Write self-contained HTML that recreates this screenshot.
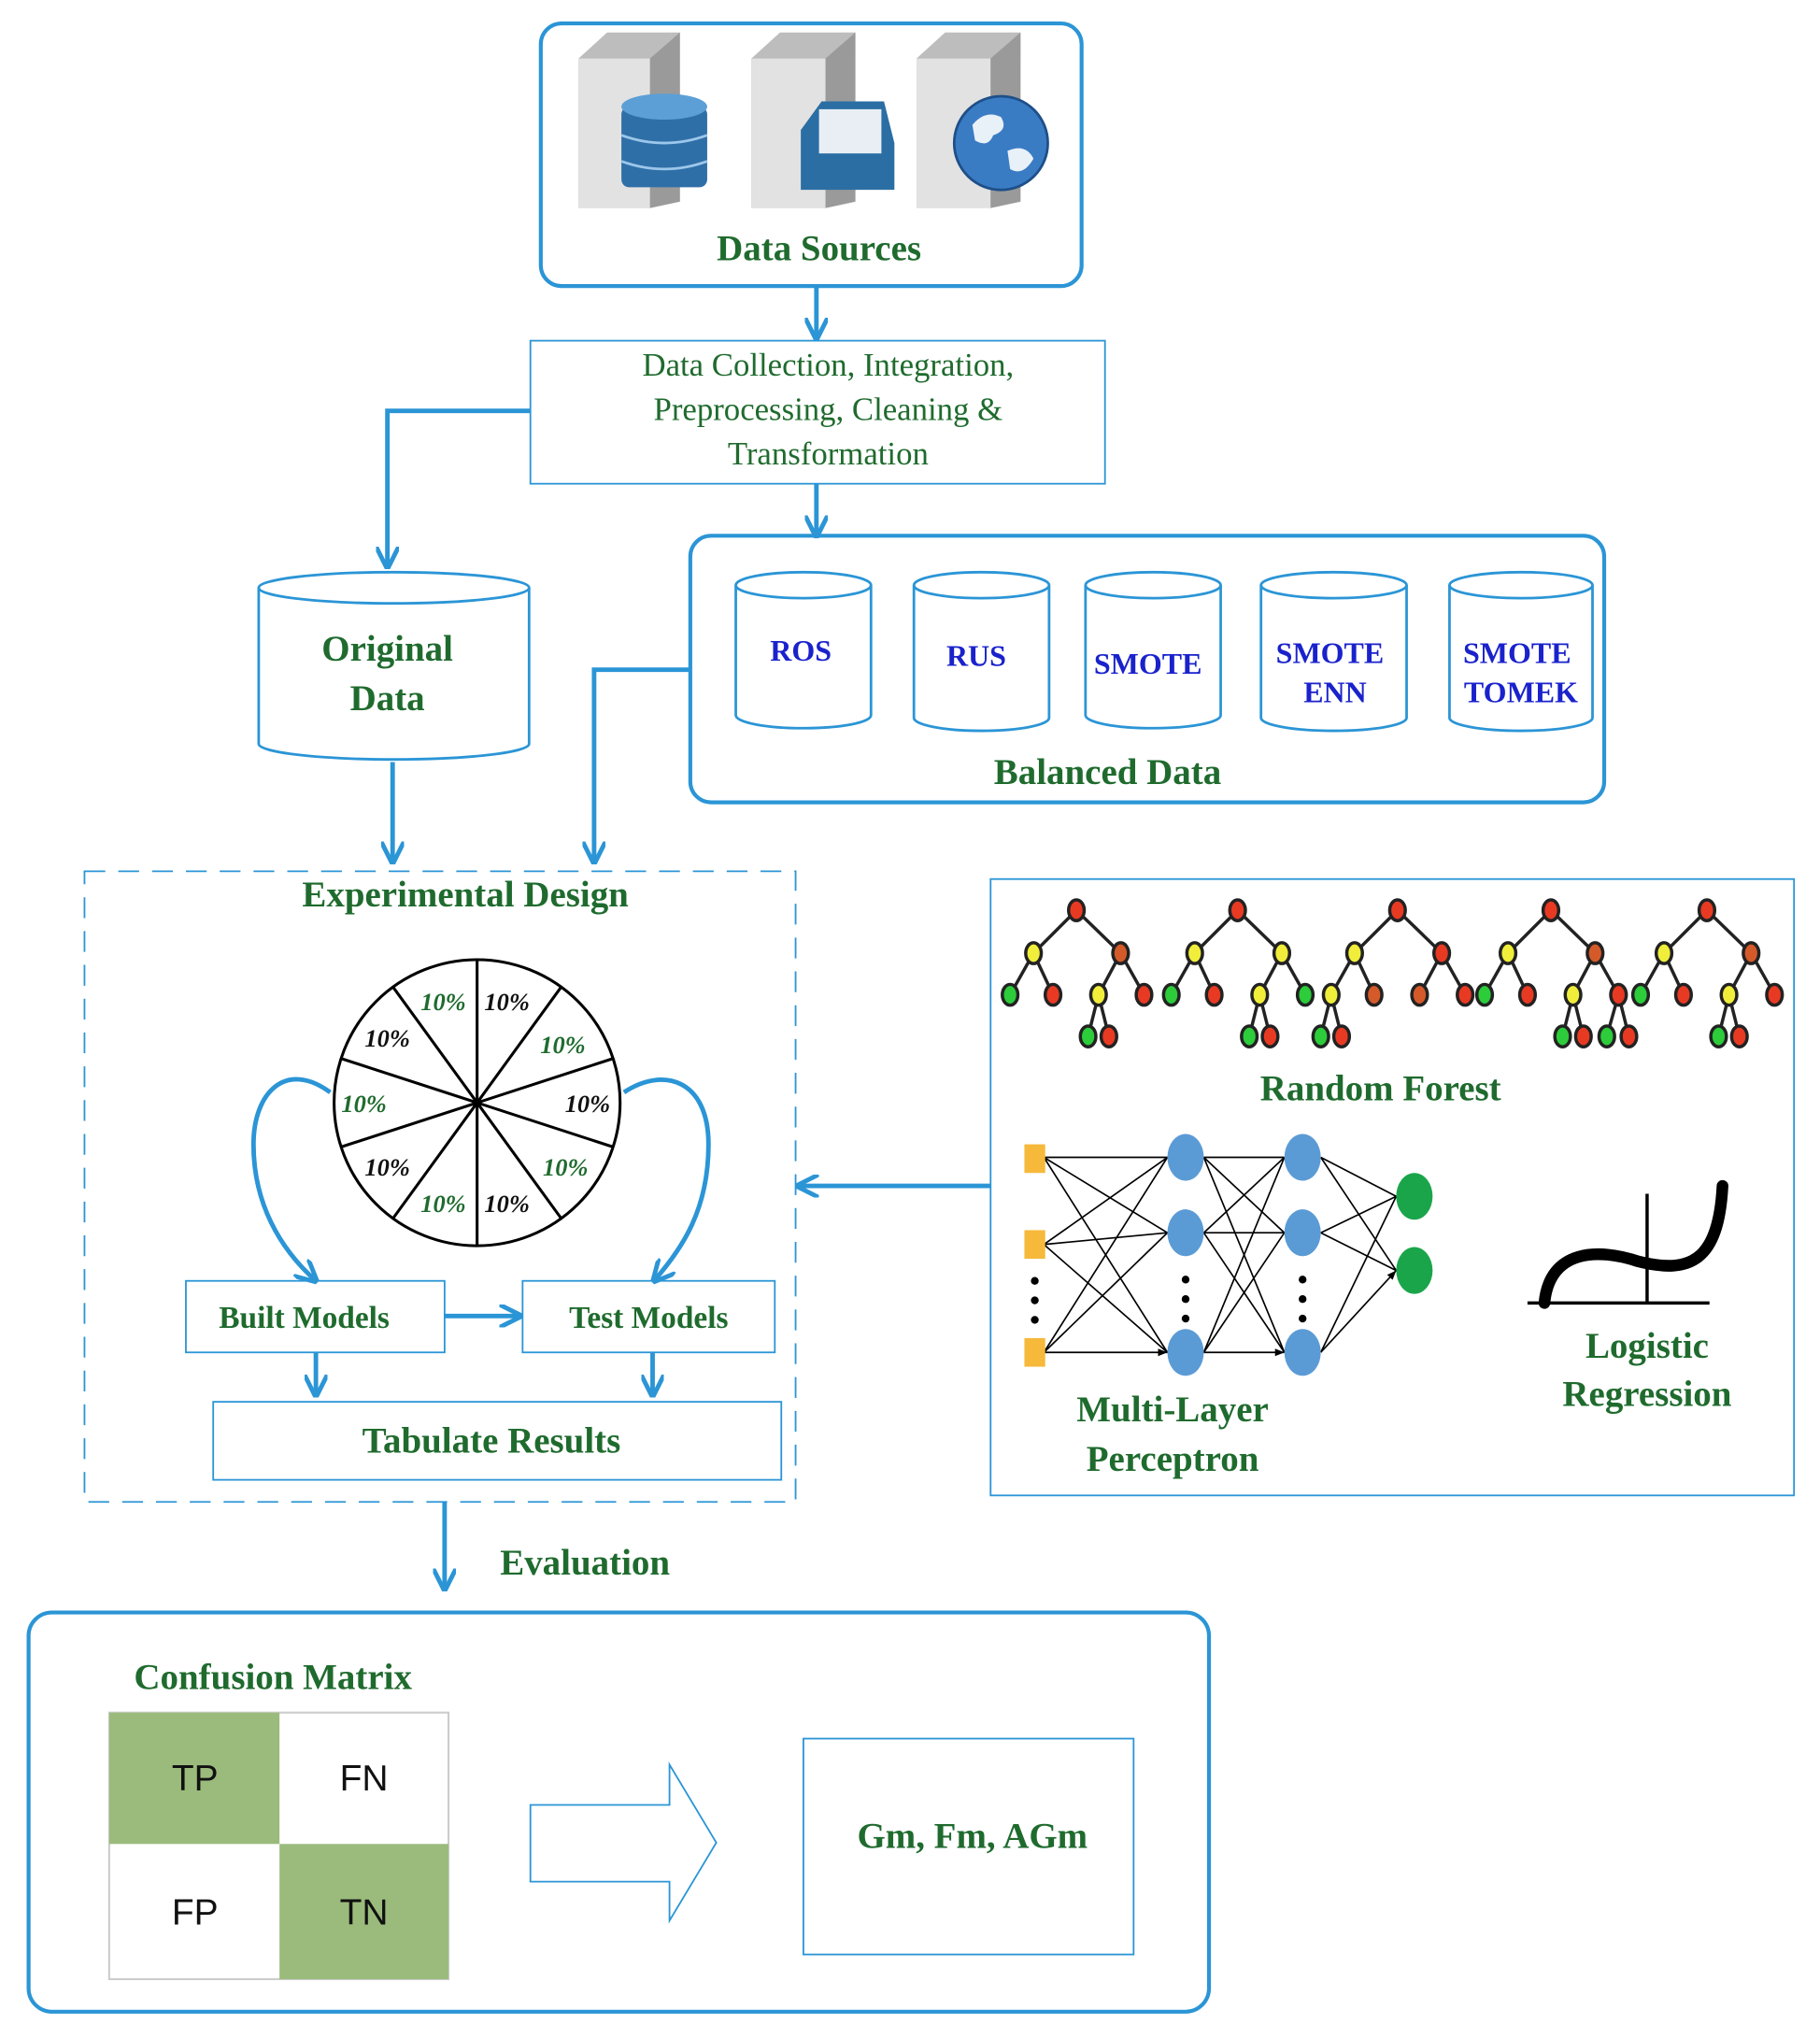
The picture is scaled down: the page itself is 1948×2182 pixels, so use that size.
<!DOCTYPE html>
<html><head><meta charset="utf-8"><style>html,body{margin:0;padding:0;background:#fff}svg{display:block}</style></head><body>
<svg width="1948" height="2182" viewBox="0 0 1400 1568" preserveAspectRatio="none" xmlns="http://www.w3.org/2000/svg" font-family="Liberation Serif, serif">
<defs>
<marker id="ah" viewBox="0 0 10 10" refX="9" refY="5" markerWidth="5" markerHeight="5" orient="auto"><path d="M0,0 L10,5 L0,10" fill="none" stroke="#2b95d6" stroke-width="2"/></marker>
<marker id="ak" viewBox="0 0 10 10" refX="10" refY="5" markerWidth="6" markerHeight="6" orient="auto"><path d="M0,1 L10,5 L0,9z" fill="#000"/></marker>
</defs>
<g stroke="#2b95d6" fill="none">
<rect x="416" y="18" width="416" height="202" rx="16" stroke-width="3"/>
<rect x="408" y="262" width="442" height="110" stroke-width="1.3"/>
<rect x="531" y="412" width="703" height="205" rx="16" stroke-width="3"/>
<rect x="65" y="670" width="547" height="485" stroke-width="1.3" stroke-dasharray="16,10"/>
<rect x="143" y="985" width="199" height="55" stroke-width="1.3"/>
<rect x="402" y="985" width="194" height="55" stroke-width="1.3"/>
<rect x="164" y="1078" width="437" height="60" stroke-width="1.3"/>
<rect x="762" y="676" width="618" height="474" stroke-width="1.3"/>
<rect x="22" y="1240" width="908" height="307" rx="18" stroke-width="3"/>
<rect x="618" y="1337" width="254" height="166" stroke-width="1.3"/>
<path d="M408,1388 H515 V1357 L551,1417 L515,1477 V1447 H408 Z" stroke-width="1.3"/>
<g stroke-width="3.5">
<path d="M628,220 V260" marker-end="url(#ah)"/>
<path d="M628,372 V412" marker-end="url(#ah)"/>
<path d="M408,316 H298 V436" marker-end="url(#ah)"/>
<path d="M531,515 H457 V663" marker-end="url(#ah)"/>
<path d="M302,586 V663" marker-end="url(#ah)"/>
<path d="M762,912 H614" marker-end="url(#ah)"/>
<path d="M342,1012 H400" marker-end="url(#ah)"/>
<path d="M243,1040 V1073" marker-end="url(#ah)"/>
<path d="M502,1040 V1073" marker-end="url(#ah)"/>
<path d="M342,1155 V1222" marker-end="url(#ah)"/>
<path d="M254,840 C220,815 195,840 195,880 C195,925 215,960 243,985" marker-end="url(#ah)"/>
<path d="M480,840 C510,820 545,830 545,880 C545,930 525,960 503,985" marker-end="url(#ah)"/>
</g>
<g stroke-width="2">
<path d="M199,452 V572 A104,12 0 0 0 407,572 V452"/><ellipse cx="303" cy="452" rx="104" ry="12"/>
<path d="M566,450 V550 A52,10 0 0 0 670,550 V450"/><ellipse cx="618" cy="450" rx="52" ry="10"/>
<path d="M703,450 V552 A52,10 0 0 0 807,552 V450"/><ellipse cx="755" cy="450" rx="52" ry="10"/>
<path d="M835,450 V550 A52,10 0 0 0 939,550 V450"/><ellipse cx="887" cy="450" rx="52" ry="10"/>
<path d="M970,450 V552 A56,10 0 0 0 1082,552 V450"/><ellipse cx="1026" cy="450" rx="56" ry="10"/>
<path d="M1115,450 V552 A55,10 0 0 0 1225,552 V450"/><ellipse cx="1170" cy="450" rx="55" ry="10"/>
</g>
</g>
<!-- servers -->
<g>
<g transform="translate(445,25)"><path d="M0,20 L22,0 H78 V130 L55,135 H0 Z" fill="#bdbdbd"/><path d="M0,20 H55 V135 H0Z" fill="#e2e2e2"/><path d="M55,20 L78,0 V130 L55,135Z" fill="#9a9a9a"/></g>
<g transform="translate(578,25)"><path d="M0,20 L22,0 H80 V130 L57,135 H0 Z" fill="#bdbdbd"/><path d="M0,20 H57 V135 H0Z" fill="#e2e2e2"/><path d="M57,20 L80,0 V130 L57,135Z" fill="#9a9a9a"/></g>
<g transform="translate(705,25)"><path d="M0,20 L22,0 H80 V130 L57,135 H0 Z" fill="#bdbdbd"/><path d="M0,20 H57 V135 H0Z" fill="#e2e2e2"/><path d="M57,20 L80,0 V130 L57,135Z" fill="#9a9a9a"/></g>
<rect x="478" y="82" width="66" height="62" rx="6" fill="#2f6fa8"/><ellipse cx="511" cy="82" rx="33" ry="10" fill="#5b9fd6"/>
<path d="M478,104 Q511,116 544,104 M478,124 Q511,136 544,124" stroke="#9cc7ea" stroke-width="2" fill="none"/>
<path d="M616,100 L632,78 H680 L688,110 V146 H616Z" fill="#2b6ea3"/><rect x="630" y="84" width="48" height="34" fill="#e8eef4"/>
<circle cx="770" cy="110" r="36" fill="#3a7cc4" stroke="#1e4f88" stroke-width="2"/><path d="M748,96 q10,-12 22,-6 q6,10 -6,14 q-4,10 -14,4z M775,116 q14,-6 20,6 q-8,14 -18,8z" fill="#e8f0f8"/>
</g>
<!-- wheel -->
<g stroke="#000" stroke-width="2.2" fill="none">
<circle cx="367" cy="848" r="110"/>
<path d="M367,738 V958 M431.7,759 L302.3,937 M471.6,814 L262.4,882 M471.6,882 L262.4,814 M431.7,937 L302.3,759"/>
</g>
<g font-size="19" font-weight="bold" font-style="italic" text-anchor="middle">
<text x="390" y="777" fill="#111">10%</text><text x="341" y="777" fill="#1f6b2e">10%</text>
<text x="433" y="810" fill="#1f6b2e">10%</text><text x="298" y="805" fill="#111">10%</text>
<text x="452" y="855" fill="#111">10%</text><text x="280" y="855" fill="#1f6b2e">10%</text>
<text x="435" y="904" fill="#1f6b2e">10%</text><text x="298" y="904" fill="#111">10%</text>
<text x="390" y="932" fill="#111">10%</text><text x="341" y="932" fill="#1f6b2e">10%</text>
</g>
<!-- trees -->
<g stroke="#222" stroke-width="2.5">
<g transform="translate(828,0)"><path d="M0,700 L-33,733 M0,700 L34,733 M-33,733 L-51,765 M-33,733 L-18,765 M34,733 L17,765 M34,733 L52,765 M17,765 L9,797 M17,765 L25,797" fill="none"/>
<ellipse cx="0" cy="700" rx="6" ry="8" fill="#e83a22"/><ellipse cx="-33" cy="733" rx="6" ry="8" fill="#f0ee3a"/><ellipse cx="34" cy="733" rx="6" ry="8" fill="#d55a2a"/><ellipse cx="-51" cy="765" rx="6" ry="8" fill="#2ccc3a"/><ellipse cx="-18" cy="765" rx="6" ry="8" fill="#e83a22"/><ellipse cx="17" cy="765" rx="6" ry="8" fill="#f0ee3a"/><ellipse cx="52" cy="765" rx="6" ry="8" fill="#e83a22"/><ellipse cx="9" cy="797" rx="6" ry="8" fill="#2ccc3a"/><ellipse cx="25" cy="797" rx="6" ry="8" fill="#e83a22"/></g>
<g transform="translate(952,0)"><path d="M0,700 L-33,733 M0,700 L34,733 M-33,733 L-51,765 M-33,733 L-18,765 M34,733 L17,765 M34,733 L52,765 M17,765 L9,797 M17,765 L25,797" fill="none"/>
<ellipse cx="0" cy="700" rx="6" ry="8" fill="#e83a22"/><ellipse cx="-33" cy="733" rx="6" ry="8" fill="#f0ee3a"/><ellipse cx="34" cy="733" rx="6" ry="8" fill="#f0ee3a"/><ellipse cx="-51" cy="765" rx="6" ry="8" fill="#2ccc3a"/><ellipse cx="-18" cy="765" rx="6" ry="8" fill="#e83a22"/><ellipse cx="17" cy="765" rx="6" ry="8" fill="#f0ee3a"/><ellipse cx="52" cy="765" rx="6" ry="8" fill="#2ccc3a"/><ellipse cx="9" cy="797" rx="6" ry="8" fill="#2ccc3a"/><ellipse cx="25" cy="797" rx="6" ry="8" fill="#e83a22"/></g>
<g transform="translate(1075,0)"><path d="M0,700 L-33,733 M0,700 L34,733 M-33,733 L-51,765 M-33,733 L-18,765 M34,733 L17,765 M34,733 L52,765 M-51,765 L-59,797 M-51,765 L-43,797" fill="none"/>
<ellipse cx="0" cy="700" rx="6" ry="8" fill="#e83a22"/><ellipse cx="-33" cy="733" rx="6" ry="8" fill="#f0ee3a"/><ellipse cx="34" cy="733" rx="6" ry="8" fill="#e83a22"/><ellipse cx="-51" cy="765" rx="6" ry="8" fill="#f0ee3a"/><ellipse cx="-18" cy="765" rx="6" ry="8" fill="#d55a2a"/><ellipse cx="17" cy="765" rx="6" ry="8" fill="#d55a2a"/><ellipse cx="52" cy="765" rx="6" ry="8" fill="#e83a22"/><ellipse cx="-59" cy="797" rx="6" ry="8" fill="#2ccc3a"/><ellipse cx="-43" cy="797" rx="6" ry="8" fill="#e83a22"/></g>
<g transform="translate(1193,0)"><path d="M0,700 L-33,733 M0,700 L34,733 M-33,733 L-51,765 M-33,733 L-18,765 M34,733 L17,765 M34,733 L52,765 M17,765 L9,797 M17,765 L25,797 M52,765 L43,797 M52,765 L60,797" fill="none"/>
<ellipse cx="0" cy="700" rx="6" ry="8" fill="#e83a22"/><ellipse cx="-33" cy="733" rx="6" ry="8" fill="#f0ee3a"/><ellipse cx="34" cy="733" rx="6" ry="8" fill="#d55a2a"/><ellipse cx="-51" cy="765" rx="6" ry="8" fill="#2ccc3a"/><ellipse cx="-18" cy="765" rx="6" ry="8" fill="#e83a22"/><ellipse cx="17" cy="765" rx="6" ry="8" fill="#f0ee3a"/><ellipse cx="52" cy="765" rx="6" ry="8" fill="#e83a22"/><ellipse cx="9" cy="797" rx="6" ry="8" fill="#2ccc3a"/><ellipse cx="25" cy="797" rx="6" ry="8" fill="#e83a22"/><ellipse cx="43" cy="797" rx="6" ry="8" fill="#2ccc3a"/><ellipse cx="60" cy="797" rx="6" ry="8" fill="#e83a22"/></g>
<g transform="translate(1313,0)"><path d="M0,700 L-33,733 M0,700 L34,733 M-33,733 L-51,765 M-33,733 L-18,765 M34,733 L17,765 M34,733 L52,765 M17,765 L9,797 M17,765 L25,797" fill="none"/>
<ellipse cx="0" cy="700" rx="6" ry="8" fill="#e83a22"/><ellipse cx="-33" cy="733" rx="6" ry="8" fill="#f0ee3a"/><ellipse cx="34" cy="733" rx="6" ry="8" fill="#d55a2a"/><ellipse cx="-51" cy="765" rx="6" ry="8" fill="#2ccc3a"/><ellipse cx="-18" cy="765" rx="6" ry="8" fill="#e83a22"/><ellipse cx="17" cy="765" rx="6" ry="8" fill="#f0ee3a"/><ellipse cx="52" cy="765" rx="6" ry="8" fill="#e83a22"/><ellipse cx="9" cy="797" rx="6" ry="8" fill="#2ccc3a"/><ellipse cx="25" cy="797" rx="6" ry="8" fill="#e83a22"/></g>
</g>
<!-- MLP -->
<g stroke="#000" stroke-width="1.2" marker-end="url(#ak)">
<path d="M803,890 L898,890 M803,890 L898,948 M803,890 L898,1040 M803,957 L898,890 M803,957 L898,948 M803,957 L898,1040 M803,1040 L898,890 M803,1040 L898,948 M803,1040 L898,1040"/>
<path d="M926,890 L988,890 M926,890 L988,948 M926,890 L988,1040 M926,948 L988,890 M926,948 L988,948 M926,948 L988,1040 M926,1040 L988,890 M926,1040 L988,948 M926,1040 L988,1040"/>
<path d="M1016,890 L1074,920 M1016,890 L1074,977 M1016,948 L1074,920 M1016,948 L1074,977 M1016,1040 L1074,920 M1016,1040 L1074,977"/>
</g>
<g fill="#f6b93a"><rect x="788" y="880" width="16" height="22"/><rect x="788" y="946" width="16" height="22"/><rect x="788" y="1029" width="16" height="22"/></g>
<g fill="#5b9bd5"><ellipse cx="912" cy="890" rx="14" ry="18"/><ellipse cx="912" cy="948" rx="14" ry="18"/><ellipse cx="912" cy="1040" rx="14" ry="18"/><ellipse cx="1002" cy="890" rx="14" ry="18"/><ellipse cx="1002" cy="948" rx="14" ry="18"/><ellipse cx="1002" cy="1040" rx="14" ry="18"/></g>
<g fill="#1aa54a"><ellipse cx="1088" cy="920" rx="14" ry="18"/><ellipse cx="1088" cy="977" rx="14" ry="18"/></g>
<g fill="#000"><circle cx="796" cy="985" r="3"/><circle cx="796" cy="1000" r="3"/><circle cx="796" cy="1015" r="3"/><circle cx="912" cy="984" r="3"/><circle cx="912" cy="999" r="3"/><circle cx="912" cy="1014" r="3"/><circle cx="1002" cy="984" r="3"/><circle cx="1002" cy="999" r="3"/><circle cx="1002" cy="1014" r="3"/></g>
<!-- logistic -->
<g stroke="#000" fill="none"><path d="M1175,1002 H1315 M1267,918 V1002" stroke-width="2.5"/>
<path d="M1188,1002 C1192,960 1230,960 1260,970 C1300,980 1322,970 1325,912" stroke-width="9" stroke-linecap="round"/></g>
<!-- matrix -->
<rect x="84" y="1317" width="261" height="205" fill="#fff" stroke="#ccc" stroke-width="1.5"/>
<rect x="84" y="1317" width="131" height="101" fill="#9bbb7c"/><rect x="215" y="1418" width="130" height="104" fill="#9bbb7c"/>
<g font-family="Liberation Sans, sans-serif" font-size="28" text-anchor="middle" fill="#111"><text x="150" y="1377">TP</text><text x="280" y="1377">FN</text><text x="150" y="1480">FP</text><text x="280" y="1480">TN</text></g>
<!-- text -->
<g fill="#1f6b2e" font-weight="bold" text-anchor="middle" font-size="28">
<text x="630" y="200">Data Sources</text>
<text x="298" y="508">Original</text><text x="298" y="546">Data</text>
<text x="852" y="603">Balanced Data</text>
<text x="358" y="697">Experimental Design</text>
<text x="234" y="1021" font-size="24">Built Models</text>
<text x="499" y="1021" font-size="24">Test Models</text>
<text x="378" y="1117">Tabulate Results</text>
<text x="1062" y="846">Random Forest</text>
<text x="902" y="1093">Multi-Layer</text><text x="902" y="1131">Perceptron</text>
<text x="1267" y="1044">Logistic</text><text x="1267" y="1081">Regression</text>
<text x="450" y="1211">Evaluation</text>
<text x="210" y="1299">Confusion Matrix</text>
<text x="748" y="1421">Gm, Fm, AGm</text>
</g>
<g fill="#1f6b2e" text-anchor="middle" font-size="25">
<text x="637" y="289">Data Collection, Integration,</text>
<text x="637" y="323">Preprocessing, Cleaning &amp;</text>
<text x="637" y="357">Transformation</text>
</g>
<g fill="#1a22cc" font-weight="bold" text-anchor="middle" font-size="23">
<text x="616" y="508">ROS</text><text x="751" y="512">RUS</text><text x="883" y="518">SMOTE</text>
<text x="1023" y="510">SMOTE</text><text x="1027" y="540">ENN</text>
<text x="1167" y="510">SMOTE</text><text x="1170" y="540">TOMEK</text>
</g>
</svg>
</body></html>
